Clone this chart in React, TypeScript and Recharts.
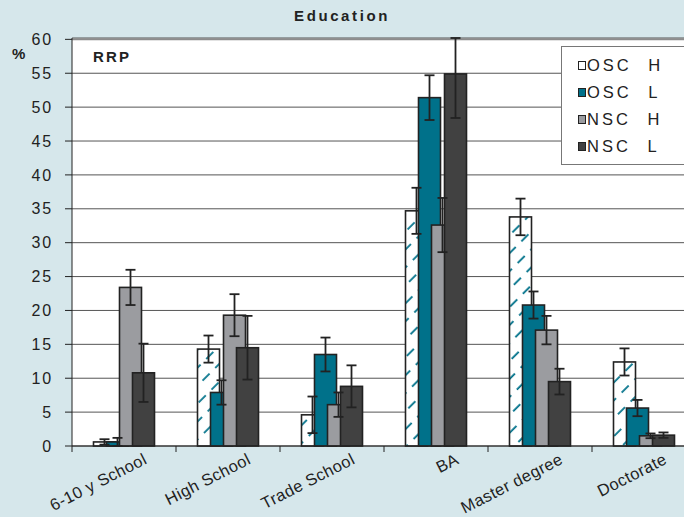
import React from 'react';
import { BarChart, Bar, XAxis, YAxis, CartesianGrid, ErrorBar, Legend, ReferenceLine } from 'recharts';

const categories = ['6-10 y School', 'High School', 'Trade School', 'BA', 'Master degree', 'Doctorate'];

const oscH = [0.6, 14.3, 4.6, 34.7, 33.8, 12.4];
const oscHErr = [0.4, 2.0, 2.7, 3.4, 2.7, 2.0];
const oscL = [0.6, 7.9, 13.5, 51.4, 20.8, 5.6];
const oscLErr = [0.6, 1.8, 2.5, 3.3, 2.0, 1.2];
const nscH = [23.4, 19.3, 6.1, 32.6, 17.1, 1.5];
const nscHErr = [2.6, 3.1, 1.8, 4.0, 2.1, 0.35];
const nscL = [10.8, 14.5, 8.8, 54.9, 9.5, 1.6];
const nscLErr = [4.3, 4.7, 3.1, 6.5, 1.9, 0.4];

const seriesNames = ['OSC H', 'OSC L', 'NSC H', 'NSC L'];
const yTicks = [0, 5, 10, 15, 20, 25, 30, 35, 40, 45, 50, 55, 60];
const Y_MAX = 60;

const data = categories.map((cat, i) => ({
  cat,
  oscH: oscH[i], oscHErr: oscHErr[i],
  oscL: oscL[i], oscLErr: oscLErr[i],
  nscH: nscH[i], nscHErr: nscHErr[i],
  nscL: nscL[i], nscLErr: nscLErr[i],
}));

const FONT = '"Liberation Sans", Arial, sans-serif';
const TEAL = '#00718a';
const GREY = '#9b9ca0';
const DARK = '#414141';
const BG = '#d6e7eb';
const INK = '#222';

const BAR_SLOT = 13; // slot width, bars are drawn wider so they overlap like excel
const BAR_DRAW = 22;

const makeShape = (fill: string) => (props: any) => {
  const { x, y, width, height } = props;
  if (height == null || isNaN(height)) return null;
  const extra = BAR_DRAW - width;
  return (
    <rect x={x - extra / 2} y={y} width={width + extra} height={height}
      fill={fill} stroke={INK} strokeWidth={1.6} />
  );
};

// clip error bar at the top of the value axis, as excel does
const errKey = (val: string, err: string) => (d: any) => [d[err], Math.min(d[err], Y_MAX + 0.2 - d[val])];

function XTick(props: any) {
  const { x, y, payload, width, visibleTicksCount } = props;
  const band = (width || 624) / (visibleTicksCount || categories.length);
  const axisY = y - 8;
  const tx = x + 24;
  const ty = y + 9;
  return (
    <g>
      <line x1={x - band / 2} x2={x - band / 2} y1={axisY} y2={axisY + 6} stroke={INK} strokeWidth={1} />
      <text x={tx} y={ty} textAnchor="end" transform={`rotate(-27 ${tx} ${ty})`}
        fontSize={16.5} letterSpacing={0.4} fill={INK} fontFamily={FONT}>{payload.value}</text>
    </g>
  );
}

const swatches = ['#ffffff', TEAL, GREY, DARK];

function LegendBox() {
  return (
    <div style={{ background: '#fff', border: '1px solid #777', padding: '5px 0 4px 16px', width: 110, fontFamily: FONT }}>
      {seriesNames.map((n, i) => (
        <div key={n} style={{ display: 'flex', alignItems: 'center', height: 27, fontSize: 16.5, letterSpacing: 3, wordSpacing: 9, color: INK, whiteSpace: 'pre' }}>
          <span style={{ display: 'inline-block', width: 6, height: 7, background: swatches[i], border: `1.5px solid ${INK}`, marginRight: 1, flex: 'none' }} />
          {n}
        </div>
      ))}
    </div>
  );
}

export default function App() {
  return (
    <div style={{ position: 'fixed', left: 0, top: 0, width: 684, height: 517, background: BG, overflow: 'hidden', fontFamily: FONT }}>
      <div style={{ position: 'absolute', left: 0, width: 684, top: 7, textAlign: 'center', fontSize: 15, fontWeight: 'bold', letterSpacing: 2.6, color: INK }}>
        Education
      </div>
      <div style={{ position: 'absolute', left: 12, top: 45, fontSize: 15, fontWeight: 'bold', color: INK }}>%</div>
      <BarChart width={700} height={517} data={data} barSize={BAR_SLOT} barGap={0}
        margin={{ top: 38, right: 4, bottom: 0, left: 0 }}>
        <defs>
          <pattern id="hatch" patternUnits="userSpaceOnUse" width={18} height={12.7} patternTransform="rotate(-45)">
            <rect width={18} height={12.7} fill="#fff" />
            <line x1={0} y1={6} x2={10} y2={6} stroke={TEAL} strokeWidth={1.8} />
          </pattern>
        </defs>
        <CartesianGrid vertical={false} stroke="#555" fill="#fff" fillOpacity={1} />
        <XAxis dataKey="cat" height={71} tickLine={false} tickSize={6} tickMargin={2}
          axisLine={{ stroke: INK }} tick={<XTick />} interval={0} />
        <YAxis domain={[0, Y_MAX]} ticks={yTicks} width={72} tickSize={7} tickMargin={12}
          axisLine={{ stroke: INK }} tickLine={{ stroke: INK }}
          tick={{ fontSize: 16, fill: INK, fontFamily: FONT, letterSpacing: 1.8 }} />
        <ReferenceLine y={Y_MAX} stroke="#8c8c8c" strokeWidth={2} />
        <Bar dataKey="oscH" name={seriesNames[0]} fill="url(#hatch)" shape={makeShape('url(#hatch)')} isAnimationActive={false}>
          <ErrorBar dataKey={errKey('oscH', 'oscHErr')} width={5} stroke={INK} strokeWidth={1.8} />
        </Bar>
        <Bar dataKey="oscL" name={seriesNames[1]} fill={TEAL} shape={makeShape(TEAL)} isAnimationActive={false}>
          <ErrorBar dataKey={errKey('oscL', 'oscLErr')} width={5} stroke={INK} strokeWidth={1.8} />
        </Bar>
        <Bar dataKey="nscH" name={seriesNames[2]} fill={GREY} shape={makeShape(GREY)} isAnimationActive={false}>
          <ErrorBar dataKey={errKey('nscH', 'nscHErr')} width={5} stroke={INK} strokeWidth={1.8} />
        </Bar>
        <Bar dataKey="nscL" name={seriesNames[3]} fill={DARK} shape={makeShape(DARK)} isAnimationActive={false}>
          <ErrorBar dataKey={errKey('nscL', 'nscLErr')} width={5} stroke={INK} strokeWidth={1.8} />
        </Bar>
        <Legend layout="vertical" align="center" verticalAlign="middle" content={<LegendBox />}
          wrapperStyle={{ position: 'absolute', left: 561, top: 46, width: 'auto', height: 'auto' }} />
      </BarChart>
      <div style={{ position: 'absolute', left: 93, top: 48, fontSize: 15, fontWeight: 'bold', letterSpacing: 2.2, color: INK }}>RRP</div>
    </div>
  );
}
